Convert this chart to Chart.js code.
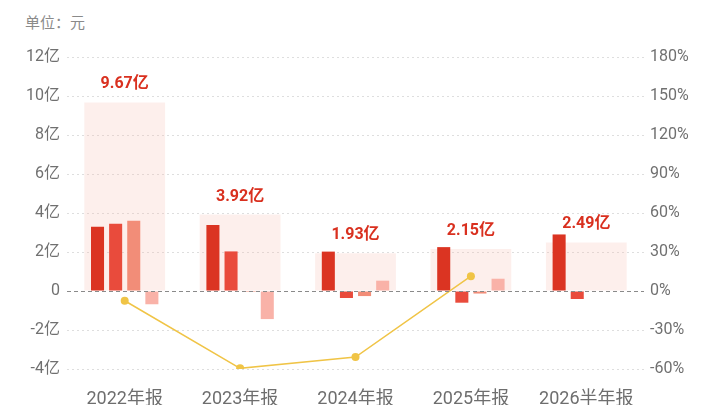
<!DOCTYPE html>
<html><head><meta charset="utf-8">
<script src="https://cdn.jsdelivr.net/npm/chart.js@4/dist/chart.umd.min.js"></script>
<style>
html,body{margin:0;padding:0;background:#fff;overflow:hidden;width:720px;height:405px;}
#unit{position:absolute;left:25px;top:11px;font:15px "Noto Sans CJK SC",sans-serif;color:#8a8a8a;}
#wrap{position:absolute;left:0;top:0;width:720px;height:416px;}
</style></head><body>
<div id="unit">单位：元</div>
<div id="wrap"><canvas id="c"></canvas></div>
<script>
const categories = ["2022年报","2023年报","2024年报","2025年报","2026半年报"];
const totals = [9.67, 3.92, 1.93, 2.15, 2.49];
const totalLabels = ["9.67亿","3.92亿","1.93亿","2.15亿","2.49亿"];
const q1 = [3.30, 3.38, 2.02, 2.25, 2.90];
const q2 = [3.45, 2.03, -0.36, -0.60, -0.41];
const q3 = [3.60, -0.05, -0.26, -0.13, null];
const q4 = [-0.68, -1.44, 0.53, 0.63, null];
const growth = [-7.5, -59.5, -50.8, 11.4, null];
const leftTicks = [12,10,8,6,4,2,0,-2,-4];
const rightTicks = [180,150,120,90,60,30,0,-30,-60];

const tickFont = {family:"Roboto, 'Noto Sans CJK SC'", size:16};
const qOpts = {categoryPercentage:0.628, barPercentage:0.72, order:5, yAxisID:'y'};

const labelPlugin = {
  id:'totLabels',
  afterDatasetsDraw(chart){
    const ctx = chart.ctx;
    const y = chart.scales.y;
    ctx.save();
    ctx.strokeStyle = '#8a8a8a';
    ctx.lineWidth = 1;
    ctx.setLineDash([4,3]);
    const zy = Math.round(y.getPixelForValue(0))+0.5;
    ctx.beginPath(); ctx.moveTo(chart.chartArea.left, zy); ctx.lineTo(chart.chartArea.right, zy); ctx.stroke();
    ctx.restore();
    const meta = chart.getDatasetMeta(0);
    ctx.save();
    ctx.font = "bold 16px Roboto, 'Noto Sans CJK SC'";
    ctx.fillStyle = '#d9301f';
    ctx.textAlign = 'center';
    ctx.textBaseline = 'bottom';
    meta.data.forEach((el,i)=>{
      ctx.fillText(totalLabels[i], el.x, el.y - 10);
    });
    ctx.restore();
  }
};

new Chart(document.getElementById('c'), {
  data:{
    labels:categories,
    datasets:[
      {type:'bar', data:totals, backgroundColor:'rgba(248,190,176,0.24)', grouped:false, categoryPercentage:1, barPercentage:0.70, order:10, yAxisID:'y'},
      Object.assign({type:'bar', data:q1, backgroundColor:'#db3422'}, qOpts),
      Object.assign({type:'bar', data:q2, backgroundColor:'#e94b3c'}, qOpts),
      Object.assign({type:'bar', data:q3, backgroundColor:'#f28d78'}, qOpts),
      Object.assign({type:'bar', data:q4, backgroundColor:'#f9b2a8'}, qOpts),
      {type:'line', data:growth, yAxisID:'y1', borderColor:'#f0c446', backgroundColor:'#f0c446', borderWidth:1.5, pointRadius:4, pointHoverRadius:4, pointBackgroundColor:'#f0c446', pointBorderWidth:0, fill:false, spanGaps:false, order:0}
    ]
  },
  options:{
    responsive:true, maintainAspectRatio:false, animation:false,
    layout:{padding:{top:57, left:0, right:0, bottom:0}},
    plugins:{legend:{display:false}, tooltip:{enabled:false}},
    scales:{
      x:{
        grid:{display:false, drawTicks:false},
        border:{display:false},
        ticks:{color:'#6e6e6e', font:{family:"Roboto, 'Noto Sans CJK SC'", size:18}, padding:20, maxRotation:0},
        afterFit(s){ s.height = 416-369; }
      },
      y:{
        position:'left', min:-4, max:12,
        afterBuildTicks(s){ s.ticks = leftTicks.map(v=>({value:v})); },
        ticks:{color:'#707070', font:tickFont, padding:7, callback:(v)=> v===0 ? '0' : v+'亿'},
        grid:{color:(c)=> c.tick && c.tick.value===0 ? 'rgba(0,0,0,0)' : '#dedede', lineWidth:1, drawTicks:false},
        border:{display:false, dash:[2,3]},
        afterFit(s){ s.width = 67; }
      },
      y1:{
        position:'right', min:-60, max:180,
        afterBuildTicks(s){ s.ticks = rightTicks.map(v=>({value:v})); },
        ticks:{color:'#707070', font:tickFont, padding:6, callback:(v)=> v+'%'},
        grid:{display:false, drawTicks:false},
        border:{display:false},
        afterFit(s){ s.width = 76; }
      }
    }
  },
  plugins:[labelPlugin]
});
</script>
</body></html>
